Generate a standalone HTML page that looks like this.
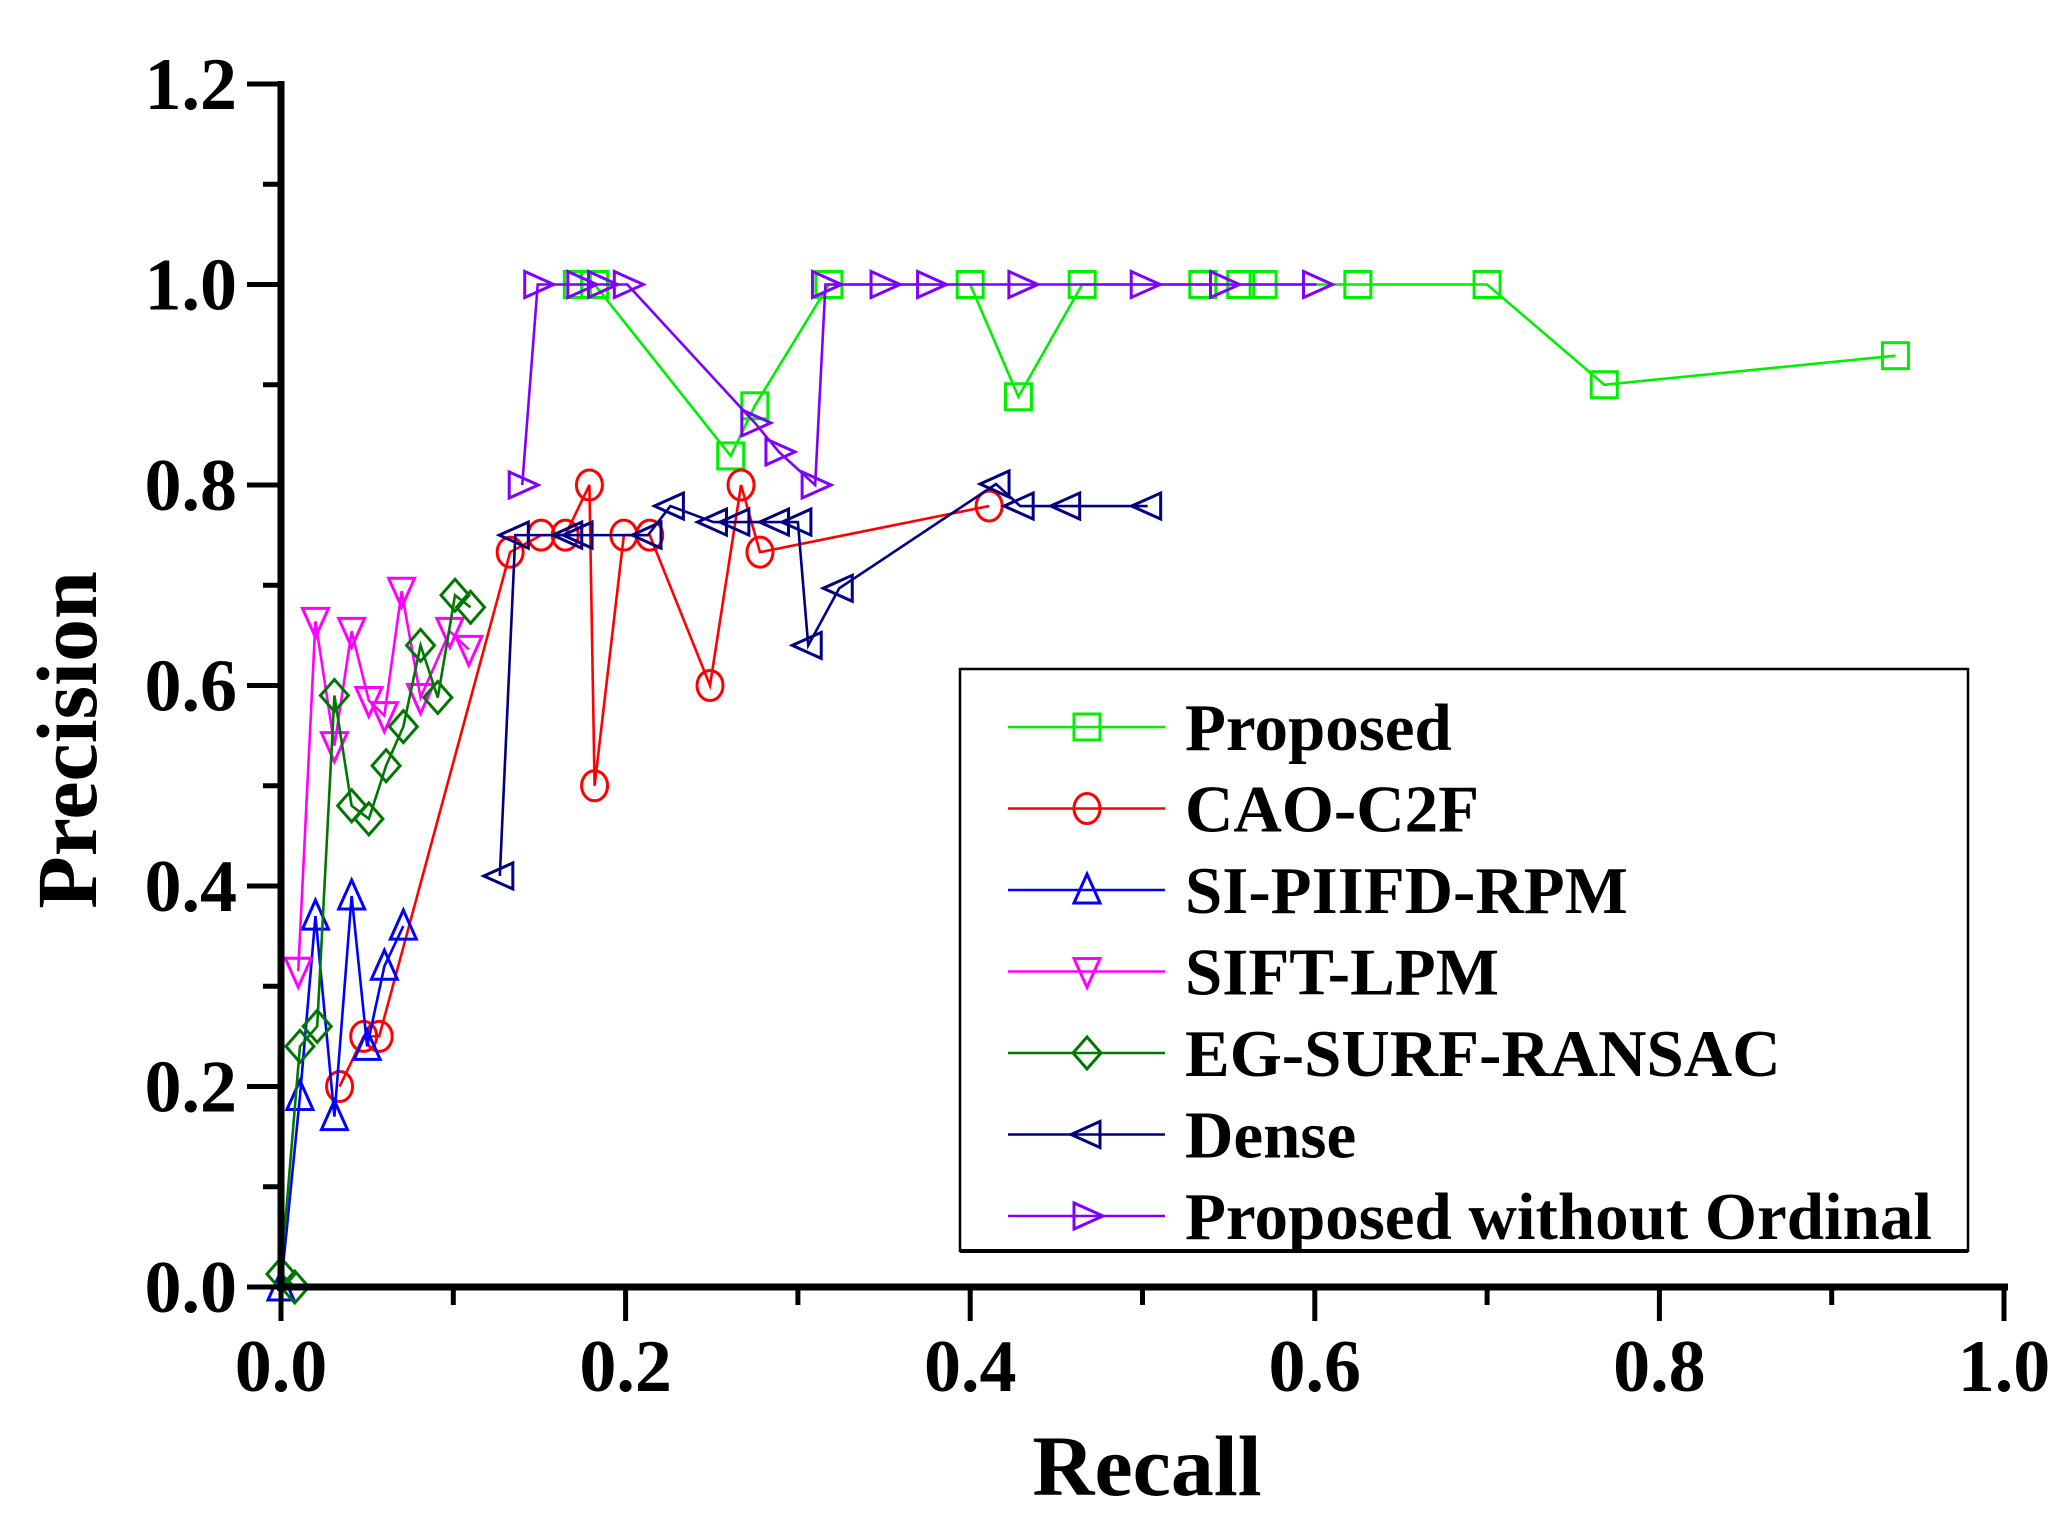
<!DOCTYPE html>
<html><head><meta charset="utf-8"><style>
html,body{margin:0;padding:0;background:#fff;}
svg{display:block;font-family:"Liberation Serif",serif;font-weight:bold;}
</style></head><body>
<svg id="chart" width="2066" height="1524" viewBox="0 0 2066 1524" xmlns="http://www.w3.org/2000/svg">
<g id="plot"></g>
</svg>
<script>
const seriesNames = ["Proposed","CAO-C2F","SI-PIIFD-RPM","SIFT-LPM","EG-SURF-RANSAC","Dense","Proposed without Ordinal"];
const seriesColors = ["#00ee00","#ff0000","#0000ff","#ff00ff","#007700","#000080","#8000ff"];
const seriesMarkers = ["square","circle","up","down","diamond","left","right"];
const xTicks = [0,0.2,0.4,0.6,0.8,1.0];
const yTicks = [0,0.2,0.4,0.6,0.8,1.0,1.2];
const xTickLabels = ["0.0","0.2","0.4","0.6","0.8","1.0"];
const yTickLabels = ["0.0","0.2","0.4","0.6","0.8","1.0","1.2"];

const proposedX = [0.172,0.182,0.261,0.275,0.318,0.400,0.428,0.465,0.535,0.557,0.570,0.625,0.700,0.768,0.937];
const proposedY = [1.0,1.0,0.829,0.879,1.0,1.0,0.888,1.0,1.0,1.0,1.0,1.0,1.0,0.900,0.929];
const caoX = [0.034,0.048,0.057,0.133,0.151,0.165,0.179,0.182,0.199,0.214,0.249,0.267,0.278,0.411];
const caoY = [0.20,0.25,0.25,0.733,0.75,0.75,0.80,0.50,0.75,0.75,0.60,0.80,0.733,0.779];
const siX = [0,0.011,0.020,0.031,0.041,0.050,0.060,0.071];
const siY = [0,0.19,0.37,0.17,0.39,0.24,0.32,0.36];
const siftX = [0.010,0.020,0.031,0.041,0.051,0.060,0.070,0.081,0.098,0.109];
const siftY = [0.315,0.664,0.54,0.654,0.585,0.57,0.694,0.588,0.654,0.636];
const egX = [0.008,0,0.011,0.021,0.031,0.041,0.051,0.061,0.071,0.081,0.091,0.101,0.110];
const egY = [0,0.013,0.24,0.26,0.59,0.48,0.467,0.52,0.559,0.64,0.588,0.69,0.678];
const denseX = [0.127,0.136,0.167,0.173,0.213,0.226,0.251,0.264,0.287,0.300,0.306,0.324,0.415,0.429,0.456,0.503];
const denseY = [0.41,0.75,0.75,0.75,0.75,0.779,0.763,0.763,0.763,0.763,0.64,0.697,0.801,0.779,0.779,0.779];
const pwoX = [0.140,0.149,0.174,0.186,0.201,0.275,0.289,0.310,0.316,0.350,0.377,0.430,0.501,0.547,0.601];
const pwoY = [0.80,1.0,1.0,1.0,1.0,0.862,0.833,0.80,1.0,1.0,1.0,1.0,1.0,1.0,1.0];
const seriesX = [proposedX,caoX,siX,siftX,egX,denseX,pwoX];
const seriesY = [proposedY,caoY,siY,siftY,egY,denseY,pwoY];

const X0=281, X1=2004, Y0=1287, Y1=84;
function sx(v){return X0+(v-0)/(1.0-0)*(X1-X0);}
function sy(v){return Y0-(v-0)/(1.2-0)*(Y0-Y1);}
const NS="http://www.w3.org/2000/svg";
const root=document.getElementById('plot');
function mk(tag,attrs,parent){const e=document.createElementNS(NS,tag);for(const k in attrs)e.setAttribute(k,attrs[k]);(parent||root).appendChild(e);return e;}

function marker(type,x,y,color,parent){
  const r=13; let e;
  if(type==="square") e=mk('rect',{x:x-r,y:y-r,width:2*r,height:2*r},parent);
  else if(type==="circle") e=mk('ellipse',{cx:x,cy:y,rx:r,ry:r+2},parent);
  else {
    let p;
    if(type==="up") p=[[x,y-r-3],[x+r,y+r],[x-r,y+r]];
    if(type==="down") p=[[x,y+r+3],[x+r,y-r],[x-r,y-r]];
    if(type==="left") p=[[x-r-3,y],[x+r,y-r],[x+r,y+r]];
    if(type==="right") p=[[x+r+3,y],[x-r,y-r],[x-r,y+r]];
    if(type==="diamond") p=[[x,y-r-3],[x+r+1,y],[x,y+r+3],[x-r-1,y]];
    e=mk('polygon',{points:p.map(q=>q.join(',')).join(' ')},parent);
  }
  e.setAttribute('fill','none');e.setAttribute('stroke',color);e.setAttribute('stroke-width','3');
  return e;
}

for(let s=0;s<seriesNames.length;s++){
  const g=mk('g',{});
  
  
  const pts=seriesX[s].map((v,i)=>sx(v)+','+sy(seriesY[s][i])).join(' ');
  const pl=mk('polyline',{points:pts,fill:'none',stroke:seriesColors[s],'stroke-width':2.6},g);
  
  
  for(let i=0;i<seriesX[s].length;i++){
    const m=marker(seriesMarkers[s],sx(seriesX[s][i]),sy(seriesY[s][i]),seriesColors[s],g);
    
    
  }
}

const ax=mk('g',{});


mk('line',{x1:X0,y1:Y0+4,x2:X0,y2:Y1-3,stroke:'#000','stroke-width':7},ax);
mk('line',{x1:X0-4,y1:Y0,x2:X1+4,y2:Y0,stroke:'#000','stroke-width':7},ax);
for(let i=0;i<=12;i++){
  const v=i*0.1; const y=sy(v); const len=(i%2===0)?34:18;
  mk('line',{x1:X0-len,y1:y,x2:X0,y2:y,stroke:'#000','stroke-width':5},ax);
}
for(let i=0;i<=10;i++){
  const v=i*0.1; const x=sx(v); const len=(i%2===0)?34:18;
  mk('line',{x1:x,y1:Y0,x2:x,y2:Y0+len,stroke:'#000','stroke-width':5},ax);
}
yTicks.forEach((v,i)=>{
  const t=mk('text',{x:237,y:sy(v)+25,'text-anchor':'end','font-size':74,fill:'#000'},ax);
  t.textContent=yTickLabels[i];
  
  
});
xTicks.forEach((v,i)=>{
  const t=mk('text',{x:sx(v),y:1391,'text-anchor':'middle','font-size':74,fill:'#000'},ax);
  t.textContent=xTickLabels[i];
  
  
});
const xt=mk('text',{x:1147,y:1495,'text-anchor':'middle','font-size':86,fill:'#000'},ax);
xt.textContent='Recall';


const yt=mk('text',{x:0,y:0,'text-anchor':'middle','font-size':86,fill:'#000',transform:'translate(96,740) rotate(-90)'},ax);
yt.textContent='Precision';



const lg=mk('g',{});


mk('rect',{x:960,y:669,width:1008,height:582,fill:'#fff',stroke:'#000','stroke-width':2.5},lg);
mk('line',{x1:960,y1:1251,x2:1968,y2:1251,stroke:'#000','stroke-width':4},lg);
for(let s=0;s<seriesNames.length;s++){
  const y=727+s*81.5;
  const e=mk('g',{},lg);
  
  
  mk('line',{x1:1008,y1:y,x2:1165,y2:y,stroke:seriesColors[s],'stroke-width':2.6},e);
  marker(seriesMarkers[s],1087,y,seriesColors[s],e);
  const t=mk('text',{x:1185,y:y+23,'font-size':67,fill:'#000'},e);
  t.textContent=seriesNames[s];
}
</script>
</body></html>
